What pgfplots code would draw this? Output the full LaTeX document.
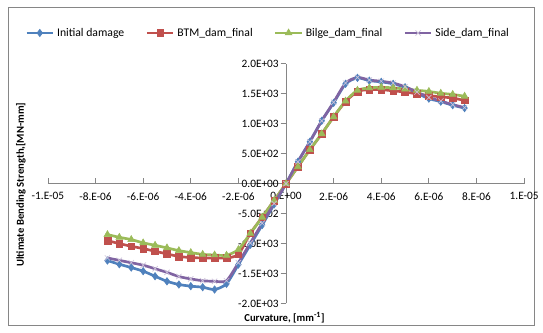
\documentclass[border=0pt]{standalone}
\usepackage{pgfplots}
\pgfplotsset{compat=1.18}
\usepackage{pgfplotstable}
\usepackage{fontspec}
\setmainfont{Carlito}
\definecolor{cblue}{HTML}{4F81BD}
\definecolor{cred}{HTML}{C0504D}
\definecolor{cgreen}{HTML}{9BBB59}
\definecolor{cpurple}{HTML}{8064A2}
\definecolor{axgray}{HTML}{868686}
\pgfplotstableread{
x y
-7.5 -1283
-7.0 -1345
-6.5 -1400
-6.0 -1460
-5.5 -1545
-5.0 -1630
-4.5 -1683
-4.0 -1711
-3.5 -1728
-3.0 -1767
-2.5 -1672
-2.0 -1350
-1.5 -1020
-1.0 -690
-0.5 -345
0 0
0.5 367
1.0 700
1.5 1050
2.0 1350
2.5 1667
3.0 1767
3.5 1720
4.0 1700
4.5 1667
5.0 1610
5.5 1510
6.0 1420
6.5 1370
7.0 1310
7.5 1262
}\initdam
\pgfplotstableread{
x y
-7.5 -950
-7.0 -1000
-6.5 -1045
-6.0 -1083
-5.5 -1128
-5.0 -1172
-4.5 -1215
-4.0 -1233
-3.5 -1240
-3.0 -1240
-2.5 -1240
-2.0 -1180
-1.5 -830
-1.0 -560
-0.5 -280
0 0
0.5 283
1.0 567
1.5 833
2.0 1117
2.5 1370
3.0 1540
3.5 1570
4.0 1570
4.5 1550
5.0 1530
5.5 1500
6.0 1470
6.5 1450
7.0 1430
7.5 1390
}\btm
\pgfplotstableread{
x y
-7.5 -850
-7.0 -895
-6.5 -933
-6.0 -988
-5.5 -1028
-5.0 -1072
-4.5 -1117
-4.0 -1150
-3.5 -1180
-3.0 -1190
-2.5 -1195
-2.0 -1100
-1.5 -830
-1.0 -560
-0.5 -280
0 0
0.5 283
1.0 567
1.5 833
2.0 1117
2.5 1380
3.0 1560
3.5 1600
4.0 1610
4.5 1600
5.0 1580
5.5 1560
6.0 1540
6.5 1510
7.0 1490
7.5 1460
}\bilge
\pgfplotstableread{
x y
-7.5 -1240
-7.0 -1280
-6.5 -1320
-6.0 -1360
-5.5 -1420
-5.0 -1480
-4.5 -1550
-4.0 -1590
-3.5 -1620
-3.0 -1630
-2.5 -1620
-2.0 -1320
-1.5 -990
-1.0 -660
-0.5 -330
0 0
0.5 367
1.0 700
1.5 1050
2.0 1360
2.5 1680
3.0 1775
3.5 1730
4.0 1710
4.5 1680
5.0 1620
5.5 1530
6.0 1440
6.5 1380
7.0 1320
7.5 1270
}\side
\begin{document}
\begin{tikzpicture}
\fill[white] (0pt,0pt) rectangle (407.25pt,249.75pt);
\draw[axgray,line width=0.6pt] (6pt,5.25pt) rectangle (401.25pt,244.5pt);
\begin{axis}[
  at={(36pt,21.75pt)}, anchor=south west,
  scale only axis, width=357.75pt, height=180pt,
  axis lines=middle,
  axis line style={axgray,line width=0.6pt,-},
  xmin=-10, xmax=10, ymin=-2000, ymax=2000,
  xtick={-10,-8,-6,-4,-2,0,2,4,6,8,10},
  xticklabels={-1.E-05,-8.E-06,-6.E-06,-4.E-06,-2.E-06,0.E+00,2.E-06,4.E-06,6.E-06,8.E-06,1.E-05},
  ytick={-2000,-1500,-1000,-500,0,500,1000,1500,2000},
  yticklabels={-2.0E+03,-1.5E+03,-1.0E+03,-5.0E+02,0.0E+00,5.0E+02,1.0E+03,1.5E+03,2.0E+03},
  hide obscured x ticks=false, hide obscured y ticks=false,
  tick style={axgray,line width=0.6pt},
  major tick length=4pt,
  xtick style={yshift=2pt},
  ytick style={xshift=-2pt},
  tick label style={font=\fontsize{8.5}{9}\selectfont, text=black},
  xticklabel style={yshift=-1pt},
  /pgf/number format/assume math mode=true,
  clip=false,
  legend columns=4,
  legend style={draw=none, fill=none, at={(0.463,1.129)}, anchor=center,
    font=\fontsize{8.8}{9}\selectfont, inner sep=0pt,
    /tikz/every even column/.append style={column sep=14pt}},
  legend image code/.code={\draw[mark repeat=2,mark phase=2] plot coordinates {(0cm,0cm)(0.35cm,0cm)(0.7cm,0cm)};},
  every axis plot/.append style={line width=2pt, smooth, tension=0.4},
]
\addplot[cblue, mark=diamond*, mark size=2.8pt, mark options={solid,fill=cblue,line width=0.4pt}] table[x=x,y=y] {\initdam};
\addlegendentry{Initial damage}
\addplot[cred, mark=square*, mark size=2.5pt, mark options={solid,fill=cred,line width=0.4pt}] table[x=x,y=y] {\btm};
\addlegendentry{BTM\_dam\_final}
\addplot[cgreen, mark=triangle*, mark size=3pt, mark options={solid,fill=cgreen,line width=0.4pt}] table[x=x,y=y] {\bilge};
\addlegendentry{Bilge\_dam\_final}
\addplot[cpurple, mark=x, mark size=2.8pt, mark options={solid,draw=cpurple!40,line width=0.5pt}] table[x=x,y=y] {\side};
\addlegendentry{Side\_dam\_final}
\end{axis}
\node[rotate=90, font=\bfseries\fontsize{8}{9}\selectfont] at (15.75pt,111pt) {Ultimate Bending Strength,[MN-mm]};
\node[font=\bfseries\fontsize{8}{9}\selectfont] at (213.75pt,11.25pt) {Curvature, [mm\textsuperscript{-1}]};
\end{tikzpicture}
\end{document}
